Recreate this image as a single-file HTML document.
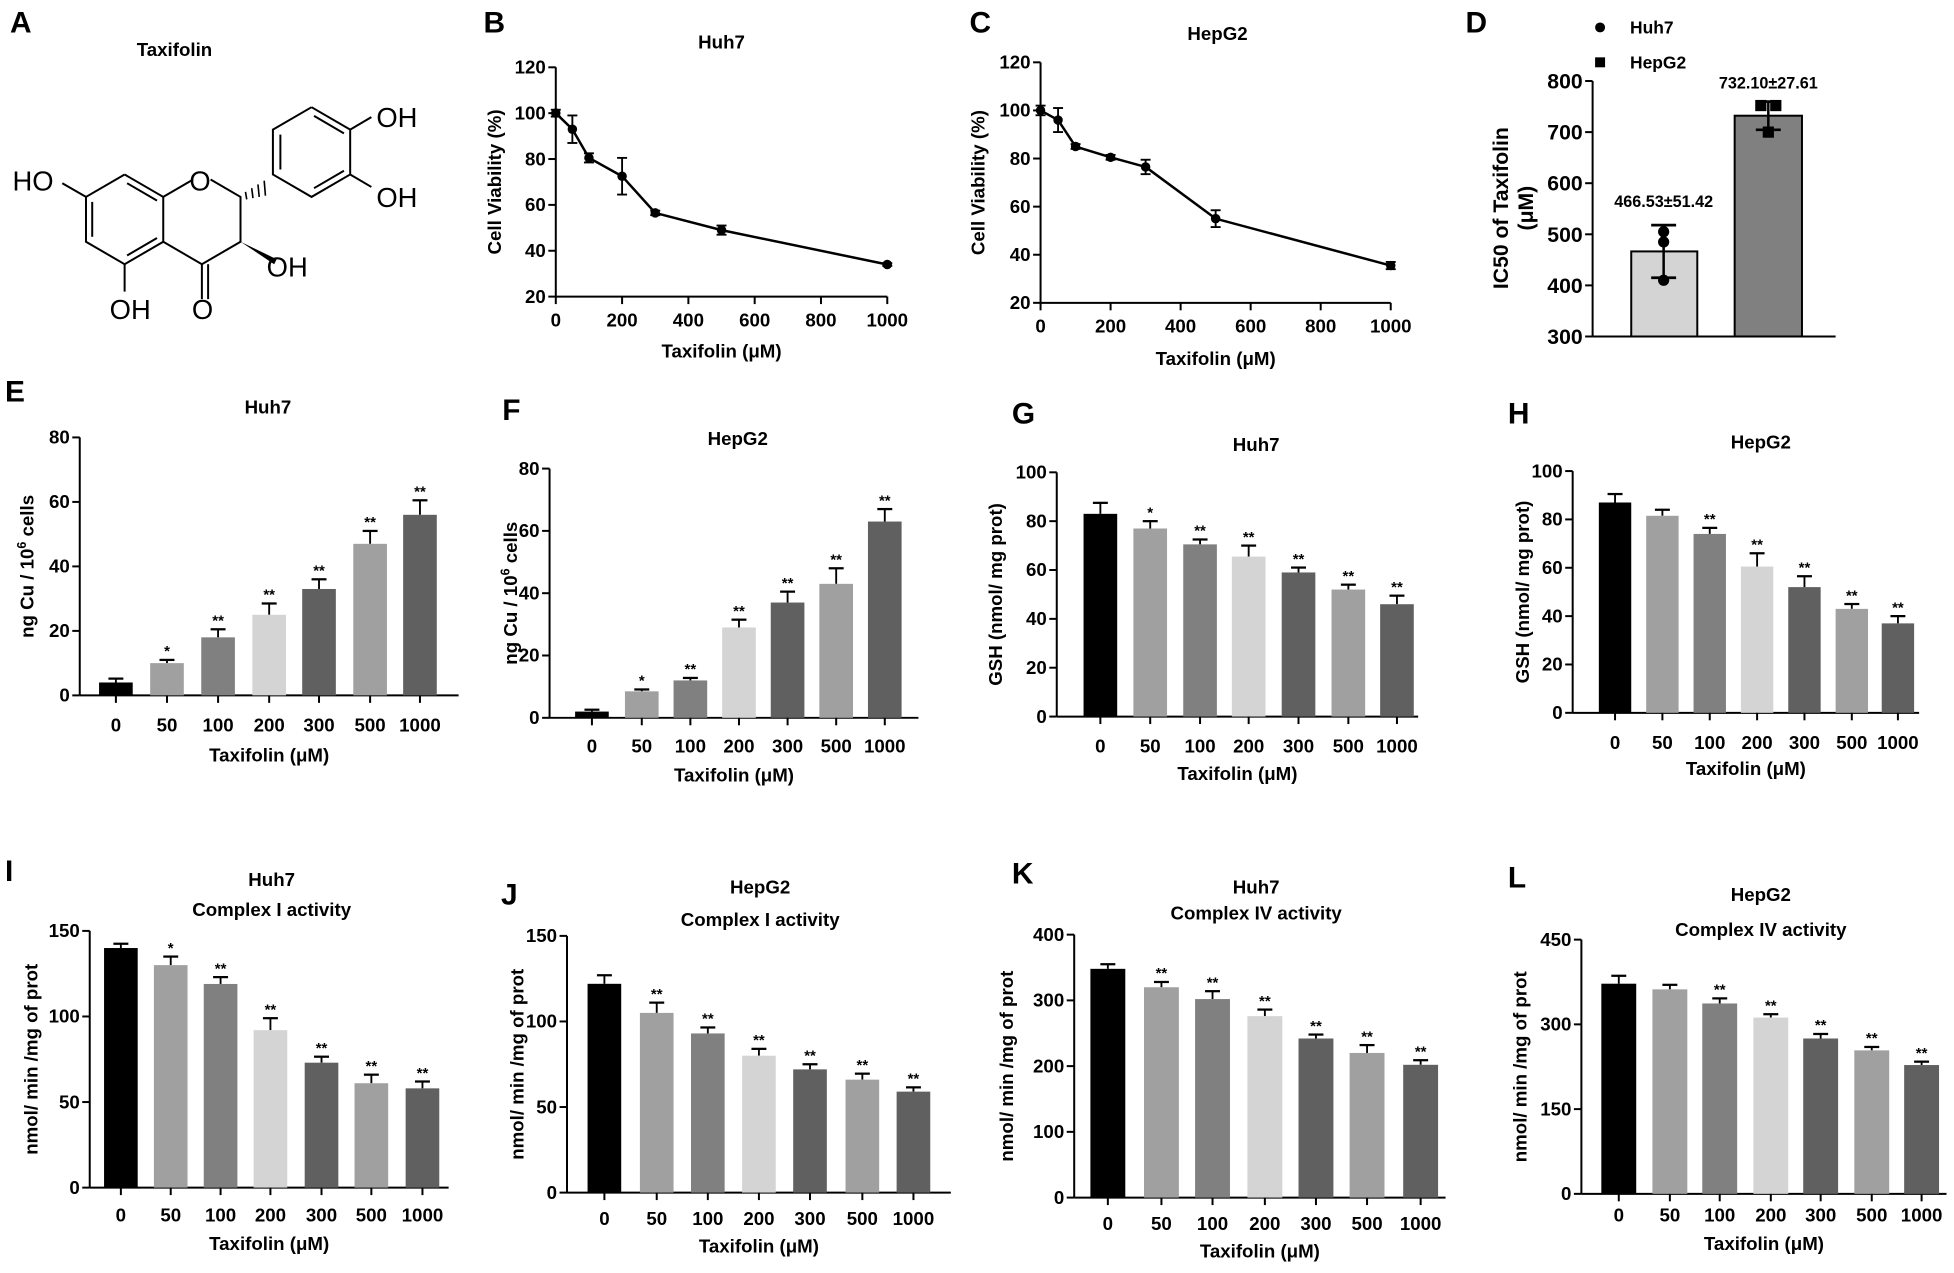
<!DOCTYPE html>
<html><head><meta charset="utf-8"><style>
html,body{margin:0;padding:0;background:#fff;width:1954px;height:1273px;overflow:hidden}
svg{display:block}
text{font-family:"Liberation Sans",Arial,sans-serif}
</style></head><body>
<svg id="s" width="1954" height="1273" viewBox="0 0 1568 1021.5" xmlns="http://www.w3.org/2000/svg">
<g font-weight="bold" font-size="24" fill="#000">
<text x="8" y="26">A</text><text x="388" y="26">B</text><text x="778" y="26">C</text><text x="1176" y="26">D</text>
<text x="4" y="322">E</text><text x="403" y="337">F</text><text x="812" y="340">G</text><text x="1210" y="340">H</text>
<text x="4" y="707">I</text><text x="402" y="726">J</text><text x="812" y="709">K</text><text x="1210" y="712">L</text>
</g>
<text x="140" y="45" font-size="15" font-weight="bold" text-anchor="middle">Taxifolin</text>
<g stroke="#000" stroke-width="1.6" fill="none">
<polyline points="100,140 131,158 131,194 100,212 69,194 69,158 100,140"/>
<line x1="74" y1="162" x2="74" y2="190"/><line x1="102" y1="147" x2="126" y2="161"/><line x1="102" y1="205" x2="126" y2="191"/>
<polyline points="131,158 155,144"/><polyline points="169,144 193,158 193,194 162,212 131,194"/>
<line x1="162" y1="212" x2="162" y2="240"/><line x1="167" y1="212" x2="167" y2="240"/>
<line x1="100" y1="212" x2="100" y2="234"/>
<line x1="69" y1="158" x2="50" y2="147"/>
<line x1="281" y1="104" x2="298" y2="94"/><line x1="281" y1="140" x2="298" y2="150"/>
<polyline points="250,86 281,104 281,140 250,158 219,140 219,104 250,86"/>
<line x1="225" y1="108" x2="225" y2="136"/><line x1="252" y1="93" x2="276" y2="107"/><line x1="252" y1="151" x2="276" y2="137"/>
</g>
<polygon points="193,194 222,208 220,212" fill="#000"/>
<g stroke="#000" stroke-width="1.3">
<line x1="197" y1="154" x2="198" y2="160"/><line x1="202" y1="151" x2="203" y2="159"/><line x1="207" y1="148" x2="208" y2="158"/><line x1="212" y1="145" x2="213" y2="157"/>
</g>
<g font-size="22" fill="#000">
<text x="10" y="153">HO</text><text x="152" y="153">O</text><text x="302" y="102">OH</text><text x="302" y="166">OH</text>
<text x="214" y="222">OH</text><text x="88" y="256">OH</text><text x="154" y="256">O</text>
</g>
<g id="g"></g>
</svg>
<script>
var g=document.getElementById('g'),h='';
function T(x,y,t,o){o=o||{};h+='<text x="'+x+'" y="'+y+'" font-size="'+(o.fs||13)+'" font-weight="bold" text-anchor="'+(o.a||'middle')+'"'+(o.r?' transform="rotate(-90 '+x+' '+y+')"':'')+'>'+t+'</text>';}
function L(a,b,c,d,w){h+='<line x1="'+a+'" y1="'+b+'" x2="'+c+'" y2="'+d+'" stroke="#000" stroke-width="'+(w||1.6)+'"/>';}
var cols=['#000','#a0a0a0','#808080','#d4d4d4','#606060','#a0a0a0','#606060'];
var cats=['0','50','100','200','300','500','1000'];
function bar(p){
 var sy=function(v){return p.y0-(p.y0-p.yt)*v/p.vmax;};
 L(p.ax,p.yt,p.ax,p.y0);L(p.ax,p.y0,p.xe,p.y0);
 p.ticks.forEach(function(t){var y=sy(t);L(p.ax-6,y,p.ax,y);T(p.ax-8,y+5,t,{a:'end',fs:15});});
 p.c.forEach(function(c,i){
  var v=p.v[i],e=p.e[i],y=sy(v),ye=sy(v+e);
  L(c,y,c,ye,1.5);L(c-6,ye,c+6,ye,1.8);
  h+='<rect x="'+(c-p.bw/2)+'" y="'+y+'" width="'+p.bw+'" height="'+(p.y0-y)+'" fill="'+cols[i]+'"/>';
  if(p.s[i])T(c,ye-3,p.s[i],{fs:12});
  L(c,p.y0,c,p.y0+6);T(c,p.ly,cats[i],{fs:15});
 });
 T((p.ax+p.xe)/2,p.xy,'Taxifolin (μM)',{fs:15});
 p.ti.forEach(function(t){T(t[1],t[2],t[0],{fs:15});});
 T(p.yx,(p.y0+p.yt)/2,p.yl,{r:1,fs:15});
}
var S1=['','*','**','**','**','**','**'],S2=['','','**','**','**','**','**'],S3=['','**','**','**','**','**','**'];
bar({ax:64,yt:351,y0:558,vmax:80,ticks:[0,20,40,60,80],xe:368,c:[93,134,175,216,256,297,337],bw:27,v:[4,10,18,25,33,47,56],e:[1.2,1,2.5,3.5,3,4,4.5],s:S1,ti:[['Huh7',215,332]],ly:587,xy:611,yl:'ng Cu / 10<tspan dy="-6" font-size="10">6</tspan><tspan dy="6"> cells</tspan>',yx:27});
bar({ax:441,yt:376,y0:576,vmax:80,ticks:[0,20,40,60,80],xe:737,c:[475,515,554,593,632,671,710],bw:27,v:[2,8.5,12,29,37,43,63],e:[0.6,0.6,0.8,2.5,3.5,5,4],s:S1,ti:[['HepG2',592,357]],ly:604,xy:627,yl:'ng Cu / 10<tspan dy="-6" font-size="10">6</tspan><tspan dy="6"> cells</tspan>',yx:415});
bar({ax:848,yt:379,y0:575,vmax:100,ticks:[0,20,40,60,80,100],xe:1138,c:[883,923,963,1002,1042,1082,1121],bw:27,v:[83,77,70.5,65.5,59,52,46],e:[4.5,3,2,4.5,2,2,3.5],s:S1,ti:[['Huh7',1008,362]],ly:604,xy:626,yl:'GSH (nmol/ mg prot)',yx:804});
bar({ax:1262,yt:378,y0:572,vmax:100,ticks:[0,20,40,60,80,100],xe:1540,c:[1296,1334,1372,1410,1448,1486,1523],bw:26,v:[87,81.5,74,60.5,52,43,37],e:[3.5,2.5,2.5,5.5,4.5,2,3],s:S2,ti:[['HepG2',1413,360]],ly:601,xy:622,yl:'GSH (nmol/ mg prot)',yx:1227});
bar({ax:72,yt:747,y0:953,vmax:150,ticks:[0,50,100,150],xe:360,c:[97,137,177,217,258,298,339],bw:27,v:[140,130,119,92,73,61,58],e:[2.5,5,4,7,3.5,5,4],s:S1,ti:[['Huh7',218,711],['Complex I activity',218,735]],ly:980,xy:1003,yl:'nmol/ min /mg of prot',yx:30});
bar({ax:455,yt:751,y0:957,vmax:150,ticks:[0,50,100,150],xe:763,c:[485,527,568,609,650,692,733],bw:27,v:[122,105,93,80,72,66,59],e:[5,6,3.5,4,3,3.5,2.5],s:S3,ti:[['HepG2',610,717],['Complex I activity',610,743]],ly:983,xy:1005,yl:'nmol/ min /mg of prot',yx:420});
bar({ax:862,yt:750,y0:961,vmax:400,ticks:[0,100,200,300,400],xe:1160,c:[889,932,973,1015,1056,1097,1140],bw:28,v:[348,320,302,276,242,220,202],e:[7,8,12,10,6,12,7],s:S3,ti:[['Huh7',1008,717],['Complex IV activity',1008,738]],ly:987,xy:1009,yl:'nmol/ min /mg of prot',yx:813});
bar({ax:1269,yt:754,y0:958,vmax:450,ticks:[0,150,300,450],xe:1562,c:[1299,1340,1380,1421,1461,1502,1542],bw:28,v:[372,362,337,312,275,254,228],e:[14,8,9,6,8,6,6],s:S2,ti:[['HepG2',1413,723],['Complex IV activity',1413,751]],ly:980,xy:1003,yl:'nmol/ min /mg of prot',yx:1225});
function line(p){
 var sx=function(v){return p.ax+(p.x1-p.ax)*v/1000;},sy=function(v){return p.y0-(p.y0-p.yt)*(v-20)/100;};
 L(p.ax,p.yt,p.ax,p.y0);L(p.ax,p.y0,p.x1,p.y0);
 [20,40,60,80,100,120].forEach(function(t){var y=sy(t);L(p.ax-6,y,p.ax,y);T(p.ax-8,y+5,t,{a:'end',fs:15});});
 [0,200,400,600,800,1000].forEach(function(t){var x=sx(t);L(x,p.y0,x,p.y0+6);T(x,p.ly,t,{fs:15});});
 var xs=[0,50,100,200,300,500,1000],pts=xs.map(function(x,i){return sx(x)+','+sy(p.v[i]);}).join(' ');
 h+='<polyline points="'+pts+'" fill="none" stroke="#000" stroke-width="2"/>';
 xs.forEach(function(x,i){var X=sx(x),a=sy(p.v[i]+p.e[i]),b=sy(p.v[i]-p.e[i]);L(X,a,X,b,1.5);L(X-4,a,X+4,a,1.5);L(X-4,b,X+4,b,1.5);h+='<circle cx="'+X+'" cy="'+sy(p.v[i])+'" r="3.8" fill="#000"/>';});
 T((p.ax+p.x1)/2,p.xy,'Taxifolin (μM)',{fs:15});T(p.tx,p.ty,p.t,{fs:15});
 T(p.yx,(p.y0+p.yt)/2,'Cell Viability (%)',{r:1,fs:15});
}
line({ax:446,x1:712,yt:54,y0:238,v:[100,93,80.5,72.5,56.5,49,34],e:[1.5,6,2,8,1,2,0.6],ly:262,xy:287,t:'Huh7',tx:579,ty:39,yx:402});
line({ax:835,x1:1116,yt:50,y0:243,v:[100,96,85,80.5,76.5,55,35.5],e:[2,5,1,1,3,3.5,1.5],ly:267,xy:293,t:'HepG2',tx:977,ty:32,yx:790});
// D
(function(){var ax=1278,y0=270,yt=65,sy=function(v){return y0-(y0-yt)*(v-300)/500;};
 L(ax,yt,ax,y0);L(ax,y0,1473,y0);
 [300,400,500,600,700,800].forEach(function(t){var y=sy(t);L(ax-6,y,ax,y);T(ax-8,y+6,t,{a:'end',fs:17});});
 h+='<rect x="1309" y="'+sy(466.5)+'" width="53" height="'+(y0-sy(466.5))+'" fill="#d4d4d4" stroke="#000" stroke-width="1.6"/>';
 h+='<rect x="1392" y="'+sy(732.1)+'" width="54" height="'+(y0-sy(732.1))+'" fill="#808080" stroke="#000" stroke-width="1.6"/>';
 L(1335,sy(518),1335,sy(415),2);L(1325,sy(518),1345,sy(518),2.2);L(1325,sy(415),1345,sy(415),2.2);
 L(1419,sy(759.7),1419,sy(704.5),2);L(1409,sy(759.7),1429,sy(759.7),2.2);L(1409,sy(704.5),1429,sy(704.5),2.2);
 [505,485,410].forEach(function(v){h+='<circle cx="1335" cy="'+sy(v)+'" r="4.5" fill="#000"/>';});
 [[1413,752],[1425,752],[1419,700]].forEach(function(q){h+='<rect x="'+(q[0]-4.5)+'" y="'+(sy(q[1])-4.5)+'" width="9" height="9" fill="#000"/>';});
 T(1335,166,'466.53±51.42',{fs:13});T(1419,71,'732.10±27.61',{fs:13});
 h+='<circle cx="1284" cy="22" r="4" fill="#000"/><rect x="1280" y="46" width="8" height="8" fill="#000"/>';
 T(1308,27,'Huh7',{a:'start',fs:14});T(1308,55,'HepG2',{a:'start',fs:14});
 T(1210,167,'IC50 of Taxifolin',{r:1,fs:17});T(1230,167,'(μM)',{r:1,fs:17});
})();
g.innerHTML=h;
</script>
</body></html>
